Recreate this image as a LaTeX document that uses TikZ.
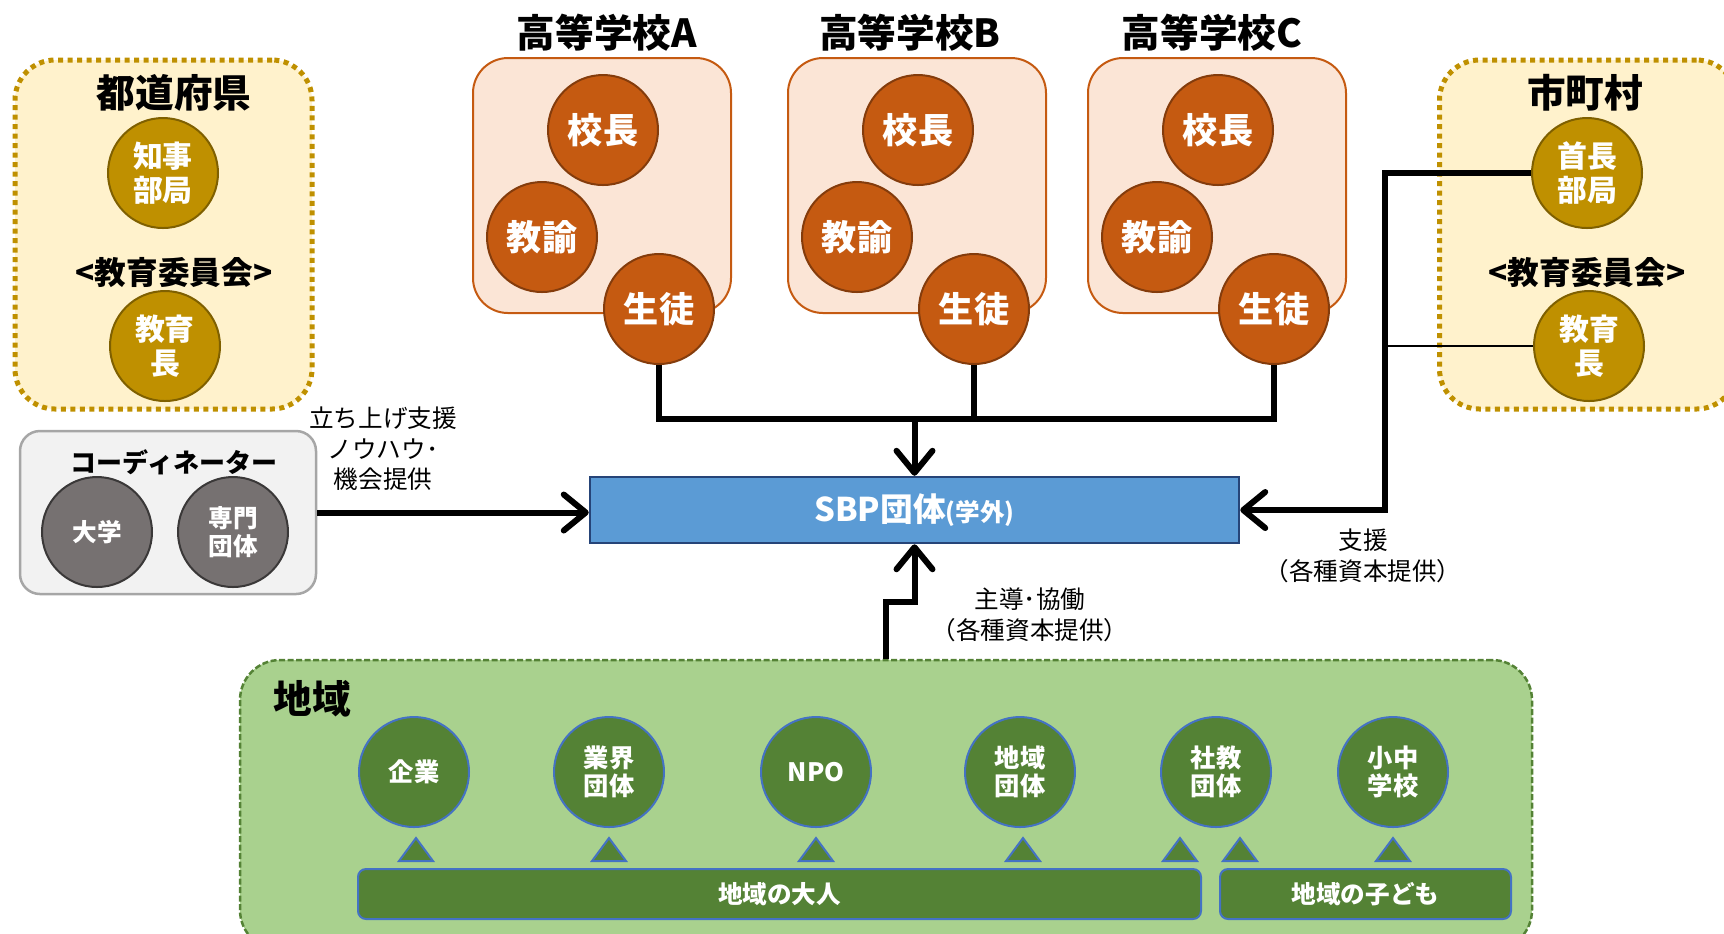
\documentclass[tikz,border=0pt]{standalone}
\usepackage{fontspec}
\setmainfont{Noto Sans CJK JP}
\usepackage{xcolor}
\definecolor{GoldBg}{HTML}{FFF2CC}
\definecolor{GoldLn}{HTML}{BF9000}
\definecolor{GoldDk}{HTML}{7F6000}
\definecolor{SchBg}{HTML}{FBE5D6}
\definecolor{SchLn}{HTML}{C55A11}
\definecolor{SchDk}{HTML}{843C0C}
\definecolor{GreyBg}{HTML}{F2F2F2}
\definecolor{GreyLn}{HTML}{A6A6A6}
\definecolor{GreyC}{HTML}{767171}
\definecolor{GreyDk}{HTML}{3A3838}
\definecolor{SbpBg}{HTML}{5B9BD5}
\definecolor{SbpLn}{HTML}{264478}
\definecolor{RegBg}{HTML}{A9D18E}
\definecolor{RegC}{HTML}{548235}
\definecolor{RegLn}{HTML}{4472C4}
\usepackage{tikz}
\usetikzlibrary{arrows.meta}
\newcommand{\FSize}[2]{\fontsize{#1}{#2}\selectfont}
\tikzstyle{Title}=[font=\bfseries\FSize{11}{13}]
\tikzstyle{Sub}=[font=\bfseries\FSize{9}{11}]
\tikzstyle{Note}=[align=center,font=\FSize{7}{8.7},inner sep=0pt]
\tikzstyle{Ball}=[circle,minimum size=11mm,inner sep=0pt,line width=0.2mm,
text=white,align=center]
\tikzstyle{GoldBox}=[rectangle,rounded corners=4mm,fill=GoldBg,draw=GoldLn,
line width=0.5mm,dash pattern=on 0.5mm off 0.45mm]
\tikzstyle{GoldNode}=[Ball,fill=GoldLn,draw=GoldDk,font=\bfseries\FSize{8.5}{9.7}]
\tikzstyle{SchBox}=[rectangle,rounded corners=3.5mm,fill=SchBg,draw=SchLn,
line width=0.2mm,minimum width=25.8mm,minimum height=25.5mm]
\tikzstyle{SchNode}=[Ball,fill=SchLn,draw=SchDk,font=\bfseries\FSize{10}{12}]
\tikzstyle{GreyBox}=[rectangle,rounded corners=2mm,fill=GreyBg,draw=GreyLn,
line width=0.25mm]
\tikzstyle{GreyNode}=[Ball,fill=GreyC,draw=GreyDk,font=\bfseries\FSize{7}{8.1}]
\tikzstyle{Sbp}=[rectangle,fill=SbpBg,draw=SbpLn,line width=0.25mm,text=white,
font=\bfseries\FSize{9.3}{11}]
\tikzstyle{RegBox}=[rectangle,rounded corners=4mm,fill=RegBg,draw=RegC,
line width=0.25mm,dash pattern=on 0.6mm off 0.25mm]
\tikzstyle{RegNode}=[Ball,fill=RegC,draw=RegLn,font=\bfseries\FSize{7.2}{8.1}]
\tikzstyle{Bar}=[rectangle,rounded corners=0.8mm,fill=RegC,draw=RegLn,
line width=0.2mm,minimum height=5mm,text=white,font=\bfseries\FSize{7}{8}]
\tikzstyle{Tri}=[fill=RegC,draw=RegLn,line width=0.2mm]
\tikzstyle{Line}=[draw=black,line width=0.6mm]
\tikzstyle{Thin}=[draw=black,line width=0.15mm]
\tikzstyle{Arr}=[Line,-{Straight Barb[length=2.2mm,width=3.6mm,round]}]

\begin{document}
\begin{tikzpicture}[x=0.1mm,y=-0.1mm]
        \useasboundingbox(0,0)rectangle(1724,933);
        % prefecture
        \node[GoldBox,minimum width=29.7mm,minimum height=34.9mm](pf)at(163.5,234.5){};
        \node[Title](pft)at(174,93){都道府県};
        \node[GoldNode](pk)at(163,173){知事\\部局};
        \node[Sub](pfi)at(174,273){<教育委員会>};
        \node[GoldNode](pe)at(165,346){教育\\長};
        % municipality
        \node[GoldBox,minimum width=29.7mm,minimum height=34.9mm](mu)at(1588,234.5){};
        \node[Title](mut)at(1585,93){市町村};
        \node[GoldNode](mb)at(1587,173){首長\\部局};
        \node[Sub](mui)at(1587,273){<教育委員会>};
        \node[GoldNode](me)at(1589,346){教育\\長};
        % coordinator
        \node[GreyBox,minimum width=29.6mm,minimum height=16.3mm](co)at(168,512.5){};
        \node[font=\bfseries\FSize{7.4}{9}](cot)at(174,462){コーディネーター};
        \node[GreyNode](cu)at(97,532){大学};
        \node[GreyNode](cs)at(233,532){専門\\団体};
        % schools
        \node[SchBox](ha)at(602,185.5){};
        \node[Title](hat)at(607,33){高等学校A};
        \node[SchNode](ha1)at(603,130){校長};
        \node[SchNode](ha2)at(542,237){教諭};
        \node[SchNode](ha3)at(659,309){生徒};
        \node[SchBox](hb)at(917,185.5){};
        \node[Title](hbt)at(910,33){高等学校B};
        \node[SchNode](hb1)at(918,130){校長};
        \node[SchNode](hb2)at(857,237){教諭};
        \node[SchNode](hb3)at(974,309){生徒};
        \node[SchBox](hc)at(1217,185.5){};
        \node[Title](hct)at(1212,33){高等学校C};
        \node[SchNode](hc1)at(1218,130){校長};
        \node[SchNode](hc2)at(1157,237){教諭};
        \node[SchNode](hc3)at(1274,309){生徒};
        % SBP
        \node[Sbp,minimum width=64.9mm,minimum height=6.6mm](sbp)at(914.5,510)
            {SBP団体{\FSize{7}{8}(学外)}};
        % region
        \node[RegBox,minimum width=129.2mm,minimum height=29mm](rg)at(886,805){};
        \node[Title](rgt)at(312,699){地域};
        \node[RegNode](r1)at(414,772){企業};
        \node[RegNode](r2)at(609,772){業界\\団体};
        \node[RegNode](r3)at(816,772){NPO};
        \node[RegNode](r4)at(1020,772){地域\\団体};
        \node[RegNode](r5)at(1216,772){社教\\団体};
        \node[RegNode](r6)at(1393,772){小中\\学校};
        \draw[Tri](399,861)--(416,838)--(433,861)--cycle;
        \draw[Tri](592,861)--(609,838)--(626,861)--cycle;
        \draw[Tri](799,861)--(816,838)--(833,861)--cycle;
        \draw[Tri](1006,861)--(1023,838)--(1040,861)--cycle;
        \draw[Tri](1163,861)--(1180,838)--(1197,861)--cycle;
        \draw[Tri](1223,861)--(1240,838)--(1257,861)--cycle;
        \draw[Tri](1376,861)--(1393,838)--(1410,861)--cycle;
        \node[Bar,minimum width=84.3mm](ba)at(779.5,894){地域の大人};
        \node[Bar,minimum width=29.1mm](bc)at(1365.5,894){地域の子ども};
        % connectors
        \coordinate(j)at(914.5,419);
        \draw[Line](ha3.south)|-(j);
        \draw[Line](hc3.south)|-(j);
        \draw[Line](hb3.south)--(hb3.south|-j);
        \draw[Arr](j)--(sbp.north);
        \draw[Arr](co.east)--(co.east-|sbp.west);
        \coordinate(v)at(1385,510);
        \draw[Arr](mb.west)-|(v)--(sbp.east);
        \draw[Thin](me.west)--(me.west-|v);
        \draw[Arr](rg.north)--++(0,-57)-|(sbp.south);
        % labels
        \node[Note](l1)at(383,449){立ち上げ支援\\ノウハウ･\\機会提供};
        \node[Note](l2)at(1363,556){支援\\（各種資本提供）};
        \node[Note](l3)at(1030,615){主導･協働\\（各種資本提供）};
    \end{tikzpicture}
\end{document}
